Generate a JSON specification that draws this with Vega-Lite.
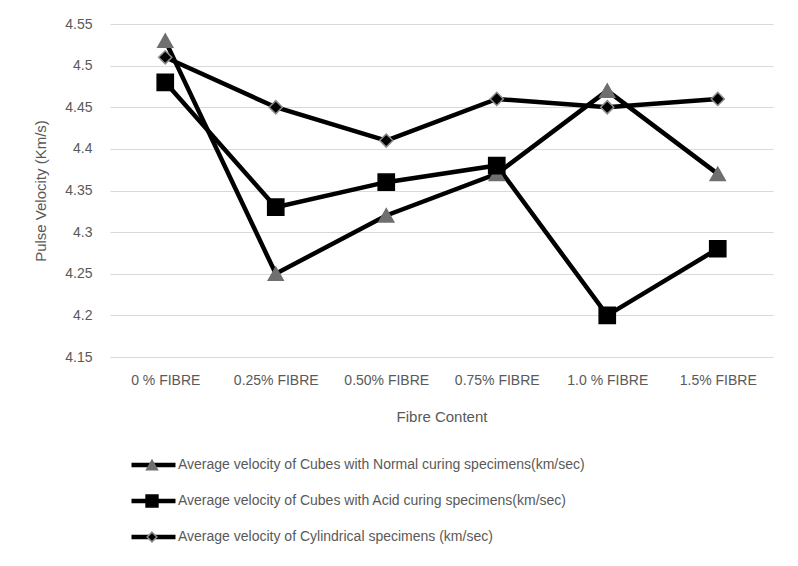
{
  "$schema": "https://vega.github.io/schema/vega-lite/v6.json",
  "autosize": {"type": "none"},
  "width": 663,
  "height": 333,
  "padding": {"left": 110, "top": 24, "right": 25, "bottom": 209},
  "background": "white",
  "config": {
    "font": "Liberation Sans",
    "view": {"stroke": null},
    "axis": {"labelColor": "#595959", "titleColor": "#595959", "titleFontWeight": "normal"},
    "legend": {"labelColor": "#595959"}
  },
  "data": {
    "values": [
      {"fibre": "0 % FIBRE", "series": "Average velocity of Cubes with Normal curing specimens(km/sec)", "v": 4.53},
      {"fibre": "0.25% FIBRE", "series": "Average velocity of Cubes with Normal curing specimens(km/sec)", "v": 4.25},
      {"fibre": "0.50% FIBRE", "series": "Average velocity of Cubes with Normal curing specimens(km/sec)", "v": 4.32},
      {"fibre": "0.75% FIBRE", "series": "Average velocity of Cubes with Normal curing specimens(km/sec)", "v": 4.37},
      {"fibre": "1.0 % FIBRE", "series": "Average velocity of Cubes with Normal curing specimens(km/sec)", "v": 4.47},
      {"fibre": "1.5% FIBRE", "series": "Average velocity of Cubes with Normal curing specimens(km/sec)", "v": 4.37},
      {"fibre": "0 % FIBRE", "series": "Average velocity of Cubes with Acid curing specimens(km/sec)", "v": 4.48},
      {"fibre": "0.25% FIBRE", "series": "Average velocity of Cubes with Acid curing specimens(km/sec)", "v": 4.33},
      {"fibre": "0.50% FIBRE", "series": "Average velocity of Cubes with Acid curing specimens(km/sec)", "v": 4.36},
      {"fibre": "0.75% FIBRE", "series": "Average velocity of Cubes with Acid curing specimens(km/sec)", "v": 4.38},
      {"fibre": "1.0 % FIBRE", "series": "Average velocity of Cubes with Acid curing specimens(km/sec)", "v": 4.2},
      {"fibre": "1.5% FIBRE", "series": "Average velocity of Cubes with Acid curing specimens(km/sec)", "v": 4.28},
      {"fibre": "0 % FIBRE", "series": "Average velocity of Cylindrical specimens (km/sec)", "v": 4.51},
      {"fibre": "0.25% FIBRE", "series": "Average velocity of Cylindrical specimens (km/sec)", "v": 4.45},
      {"fibre": "0.50% FIBRE", "series": "Average velocity of Cylindrical specimens (km/sec)", "v": 4.41},
      {"fibre": "0.75% FIBRE", "series": "Average velocity of Cylindrical specimens (km/sec)", "v": 4.46},
      {"fibre": "1.0 % FIBRE", "series": "Average velocity of Cylindrical specimens (km/sec)", "v": 4.45},
      {"fibre": "1.5% FIBRE", "series": "Average velocity of Cylindrical specimens (km/sec)", "v": 4.46}
    ]
  },
  "encoding": {
    "x": {
      "field": "fibre", "type": "nominal",
      "sort": ["0 % FIBRE", "0.25% FIBRE", "0.50% FIBRE", "0.75% FIBRE", "1.0 % FIBRE", "1.5% FIBRE"],
      "axis": {"title": "Fibre Content", "labelAngle": 0, "ticks": false, "domain": false, "grid": false,
               "labelPadding": 16, "labelFontSize": 14, "titleFontSize": 15, "titlePadding": 22}
    },
    "y": {
      "field": "v", "type": "quantitative",
      "scale": {"domain": [4.15, 4.55], "nice": false, "zero": false},
      "axis": {"title": "Pulse Velocity (Km/s)", "values": [4.15, 4.2, 4.25, 4.3, 4.35, 4.4, 4.45, 4.5, 4.55],
               "format": ".2~f", "grid": true, "gridColor": "#d9d9d9", "gridWidth": 1, "domain": false, "ticks": false,
               "labelPadding": 18, "labelFontSize": 14, "titleFontSize": 15, "titlePadding": 16}
    }
  },
  "layer": [
    {
      "mark": {"type": "line", "strokeWidth": 4.5},
      "encoding": {
        "color": {
          "field": "series", "type": "nominal",
          "sort": ["Average velocity of Cubes with Normal curing specimens(km/sec)", "Average velocity of Cubes with Acid curing specimens(km/sec)", "Average velocity of Cylindrical specimens (km/sec)"],
          "scale": {"range": ["#000000", "#000000", "#000000"]},
          "legend": {"orient": "none", "legendX": 19, "legendY": 433, "direction": "vertical", "title": null,
                     "symbolType": "stroke", "symbolSize": 1936, "symbolStrokeWidth": 4.5, "symbolStrokeColor": "#000000",
                     "clipHeight": 16, "rowPadding": 20, "labelOffset": 0, "labelFontSize": 14, "labelLimit": 0, "padding": 0}
        }
      }
    },
    {
      "mark": {"type": "point", "filled": true, "size": 3600, "strokeWidth": 1.5, "opacity": 1},
      "encoding": {
        "shape": {
          "field": "series", "type": "nominal",
          "scale": {"domain": ["Average velocity of Cubes with Normal curing specimens(km/sec)", "Average velocity of Cubes with Acid curing specimens(km/sec)", "Average velocity of Cylindrical specimens (km/sec)"],
                    "range": ["M-0.25,0.22L0,-0.22L0.25,0.22Z", "M-0.27,-0.27H0.27V0.27H-0.27Z", "M0,-0.22L0.22,0L0,0.22L-0.22,0Z"]},
          "legend": {"orient": "none", "legendX": 19, "legendY": 433, "direction": "vertical", "title": null,
                     "symbolSize": 1936, "clipHeight": 16, "rowPadding": 20, "labelOffset": 0, "labelFontSize": 14,
                     "labelLimit": 0, "labelExpr": "''", "padding": 0}
        },
        "fill": {
          "field": "series", "type": "nominal",
          "scale": {"domain": ["Average velocity of Cubes with Normal curing specimens(km/sec)", "Average velocity of Cubes with Acid curing specimens(km/sec)", "Average velocity of Cylindrical specimens (km/sec)"],
                    "range": ["#6f6f6f", "#000000", "#000000"]},
          "legend": {"orient": "none", "legendX": 19, "legendY": 433, "direction": "vertical", "title": null,
                     "symbolSize": 1936, "clipHeight": 16, "rowPadding": 20, "labelOffset": 0, "labelFontSize": 14,
                     "labelLimit": 0, "labelExpr": "''", "padding": 0}
        },
        "stroke": {
          "field": "series", "type": "nominal",
          "scale": {"domain": ["Average velocity of Cubes with Normal curing specimens(km/sec)", "Average velocity of Cubes with Acid curing specimens(km/sec)", "Average velocity of Cylindrical specimens (km/sec)"],
                    "range": ["#6f6f6f", "#000000", "#8c8c8c"]},
          "legend": {"orient": "none", "legendX": 19, "legendY": 433, "direction": "vertical", "title": null,
                     "symbolSize": 1936, "clipHeight": 16, "rowPadding": 20, "labelOffset": 0, "labelFontSize": 14,
                     "labelLimit": 0, "labelExpr": "''", "padding": 0}
        }
      }
    }
  ]
}
